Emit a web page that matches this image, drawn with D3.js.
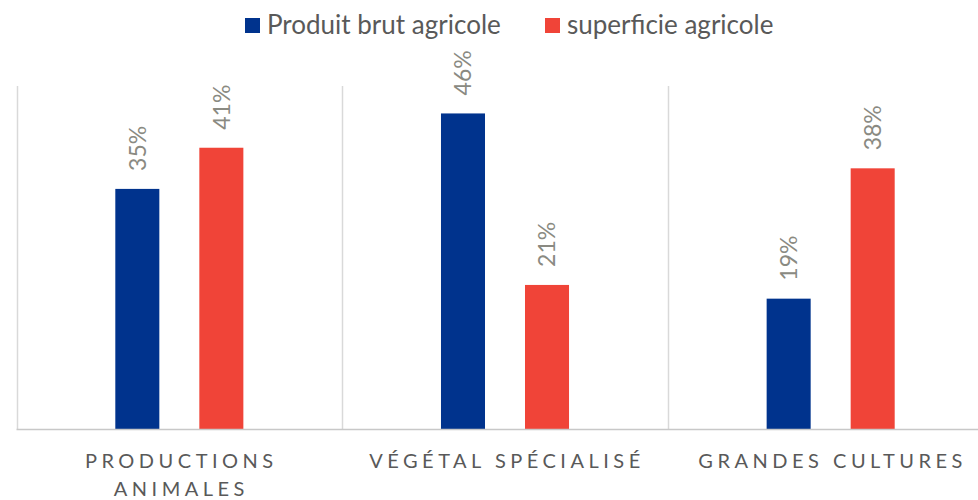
<!DOCTYPE html>
<html>
<head>
<meta charset="utf-8">
<script src="https://cdn.jsdelivr.net/npm/d3@7"></script>
<style>
  body { margin: 0; background: #fff; }
  svg { font-family: Lato, "Open Sans", sans-serif; }
</style>
</head>
<body>
<svg width="978" height="500"></svg>
<script>
// data
var categories = ["PRODUCTIONS ANIMALES", "VÉGÉTAL SPÉCIALISÉ", "GRANDES CULTURES"];
var seriesNames = ["Produit brut agricole", "superficie agricole"];
var produitBrut = [35, 46, 19];
var superficie = [41, 21, 38];
var seriesValues = [produitBrut, superficie];

var color = d3.scaleOrdinal()
  .domain(seriesNames)
  .range(["#00338d", "#f04438"]);

var svg = d3.select("svg"),
    width = +svg.attr("width"),
    height = +svg.attr("height");

var plotLeft = 16.5, plotRight = 993.5, plotTop = 86, plotBottom = 429;

var x0 = d3.scaleBand()
  .domain(categories)
  .range([plotLeft, plotRight]);

var x1 = d3.scaleBand()
  .domain(seriesNames)
  .range([0, x0.bandwidth()])
  .paddingInner(0.476)
  .paddingOuter(1.176);

var y = d3.scaleLinear()
  .domain([0, 50])
  .range([plotBottom, plotTop]);

// category separators
var seps = categories.map(function(c) { return x0(c); }).concat([plotRight]);
svg.append("g")
  .selectAll("line")
  .data(seps)
  .enter().append("line")
    .attr("x1", function(d) { return Math.round(d) + 0.5; })
    .attr("x2", function(d) { return Math.round(d) + 0.5; })
    .attr("y1", plotTop)
    .attr("y2", plotBottom)
    .attr("stroke", "#d9d9d9")
    .attr("stroke-width", 1.5);

// flatten data
var rows = [];
categories.forEach(function(c, i) {
  seriesNames.forEach(function(s, j) {
    rows.push({cat: c, series: s, value: seriesValues[j][i]});
  });
});

var bars = svg.append("g");
bars.selectAll("rect")
  .data(rows)
  .enter().append("rect")
    .attr("x", function(d) { return x0(d.cat) + x1(d.series); })
    .attr("y", function(d) { return y(d.value); })
    .attr("width", x1.bandwidth())
    .attr("height", function(d) { return y(0) - y(d.value); })
    .attr("fill", function(d) { return color(d.series); });

// value labels (rotated)
bars.selectAll("text")
  .data(rows)
  .enter().append("text")
    .attr("transform", function(d) {
      var cx = x0(d.cat) + x1(d.series) + x1.bandwidth() / 2;
      return "translate(" + cx + "," + (y(d.value) - 18) + ") rotate(-90)";
    })
    .attr("dy", "0.36em")
    .attr("text-anchor", "start")
    .attr("fill", "#8a8a82")
    .style("font-size", "23px")
    .text(function(d) { return d.value + "%"; });

// x axis baseline
svg.append("line")
  .attr("x1", plotLeft)
  .attr("x2", width)
  .attr("y1", plotBottom + 0.5)
  .attr("y2", plotBottom + 0.5)
  .attr("stroke", "#c8c8c8")
  .attr("stroke-width", 1.5);

// category labels, wrapped like the original
var labelLines = {
  "PRODUCTIONS ANIMALES": ["PRODUCTIONS", "ANIMALES"],
  "VÉGÉTAL SPÉCIALISÉ": ["VÉGÉTAL SPÉCIALISÉ"],
  "GRANDES CULTURES": ["GRANDES CULTURES"]
};
var xAxis = svg.append("g");
categories.forEach(function(c) {
  var t = xAxis.append("text")
    .attr("y", 468)
    .attr("text-anchor", "middle")
    .attr("fill", "#595959")
    .style("font-size", "20px")
    .style("letter-spacing", "4.5px");
  labelLines[c].forEach(function(line, i) {
    t.append("tspan")
      .attr("x", x0(c) + x0.bandwidth() / 2 + 2)
      .attr("dy", i == 0 ? 0 : 28)
      .text(line);
  });
});

// legend
var legendX = [245, 545];
var legend = svg.append("g");
seriesNames.forEach(function(s, i) {
  legend.append("rect")
    .attr("x", legendX[i])
    .attr("y", 18)
    .attr("width", 15)
    .attr("height", 15)
    .attr("fill", color(s));
  legend.append("text")
    .attr("x", legendX[i] + 22)
    .attr("y", 34)
    .attr("fill", "#595959")
    .style("font-size", "26px")
    .text(s);
});
</script>
</body>
</html>
